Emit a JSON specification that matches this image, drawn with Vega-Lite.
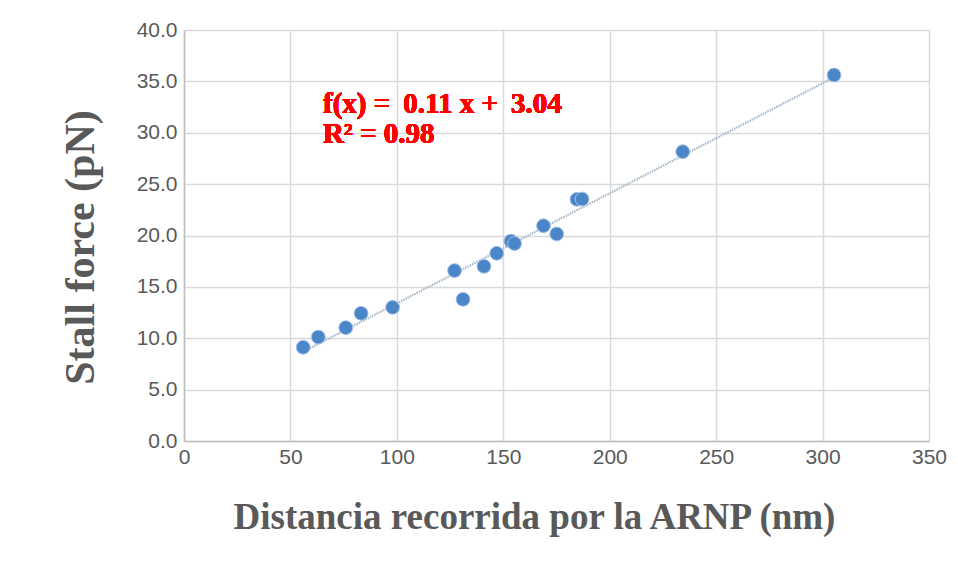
{
  "$schema": "https://vega.github.io/schema/vega-lite/v6.json",
  "width": 745,
  "height": 411,
  "autosize": {"type": "none"},
  "padding": {"left": 184, "top": 30, "right": 29, "bottom": 135},
  "background": "white",
  "config": {
    "view": {"stroke": null},
    "axis": {
      "gridColor": "#d9d9d9",
      "gridWidth": 1.5,
      "domainColor": "#bfbfbf",
      "domainWidth": 1.5,
      "ticks": false,
      "labelFont": "Liberation Sans",
      "labelFontSize": 21,
      "labelColor": "#595959",
      "titleFont": "Liberation Serif",
      "titleFontWeight": "bold",
      "titleColor": "#595959"
    }
  },
  "data": {
    "values": [
      {"x": 56.0, "y": 9.12},
      {"x": 63.1, "y": 10.12},
      {"x": 76.0, "y": 11.03},
      {"x": 83.2, "y": 12.43},
      {"x": 98.0, "y": 13.01},
      {"x": 127.1, "y": 16.59},
      {"x": 131.1, "y": 13.79},
      {"x": 140.9, "y": 17.0},
      {"x": 146.9, "y": 18.27},
      {"x": 153.6, "y": 19.46},
      {"x": 155.3, "y": 19.22},
      {"x": 168.9, "y": 20.95},
      {"x": 175.1, "y": 20.15},
      {"x": 184.6, "y": 23.52},
      {"x": 187.0, "y": 23.55},
      {"x": 234.3, "y": 28.16},
      {"x": 305.4, "y": 35.62}
    ]
  },
  "encoding": {
    "x": {
      "field": "x",
      "type": "quantitative",
      "scale": {"domain": [0, 350], "nice": false},
      "axis": {
        "values": [0, 50, 100, 150, 200, 250, 300, 350],
        "format": "d",
        "labelPadding": 5,
        "labelFlush": false,
        "title": "Distancia recorrida por la ARNP (nm)",
        "titleFontSize": 37,
        "titleX": 350,
        "titleY": 87,
        "titleAlign": "center",
        "titleBaseline": "alphabetic"
      }
    },
    "y": {
      "field": "y",
      "type": "quantitative",
      "scale": {"domain": [0, 40], "nice": false},
      "axis": {
        "values": [0, 5, 10, 15, 20, 25, 30, 35, 40],
        "format": ".1f",
        "labelPadding": 7,
        "labelFlush": false,
        "title": "Stall force (pN)",
        "titleFontSize": 42,
        "titleAngle": -90,
        "titleX": -104,
        "titleY": 217,
        "titleAlign": "center",
        "titleBaseline": "middle"
      }
    }
  },
  "layer": [
    {
      "transform": [{"regression": "y", "on": "x"}],
      "mark": {"type": "line", "color": "#a7b6c8", "strokeWidth": 2.2, "strokeDash": [1.5, 1]}
    },
    {
      "mark": {"type": "point", "filled": true, "size": 190, "color": "#4a86c8", "opacity": 1, "stroke": "#9fc0e6", "strokeWidth": 1}
    },
    {
      "mark": {
        "type": "text",
        "text": ["f(x) = \u20090.11 x + \u20093.04", "R² = 0.98"],
        "font": "Liberation Serif",
        "fontWeight": "bold",
        "fontSize": 29,
        "color": "#ff0000",
        "align": "left",
        "baseline": "alphabetic",
        "lineHeight": 30
      },
      "encoding": {
        "x": {"datum": 65.3},
        "y": {"datum": 31.92}
      }
    }
  ]
}
